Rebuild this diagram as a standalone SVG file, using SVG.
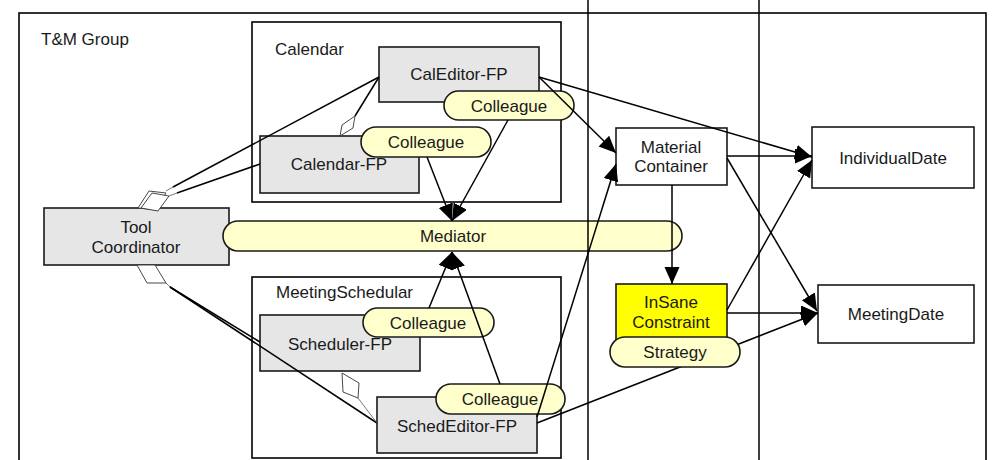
<svg xmlns="http://www.w3.org/2000/svg" width="993" height="460" viewBox="0 0 993 460">
  <style>
    text { font-family: "Liberation Sans", Arial, sans-serif; font-size: 17px; fill: #1a1a1a; }
    .mid { text-anchor: middle; }
    .frame { fill: none; stroke: #000; stroke-width: 1.6; }
    .box { fill: #e6e6e6; stroke: #1a1a1a; stroke-width: 1.6; }
    .plain { fill: #fff; stroke: #1a1a1a; stroke-width: 1.6; }
    .hot { fill: #ffff00; stroke: #1a1a1a; stroke-width: 1.6; }
    .role { fill: #ffffcc; stroke: #1a1a1a; stroke-width: 1.6; }
    .dep { fill: none; stroke: #000; stroke-width: 1.5; marker-end: url(#arrow); }
    .agg { fill: none; stroke: #000; stroke-width: 1.5; }
    .thin { fill: none; stroke: #555; stroke-width: 0.8; }
    .dia { fill: #fff; stroke: #333; stroke-width: 0.9; }
    .sep { stroke: #000; stroke-width: 1.5; }
  </style>
  <defs>
    <marker id="arrow" markerUnits="userSpaceOnUse" markerWidth="19" markerHeight="16" refX="17" refY="7.5" orient="auto">
      <path d="M0,0 L17,7.5 L0,15 Z" fill="#000"/>
    </marker>
  </defs>

  <rect width="993" height="460" fill="#fff"/>

  <!-- outer group frame -->
  <g id="tm-group">
    <rect class="frame" x="19" y="13" width="967" height="460"/>
    <text x="41" y="45">T&amp;M Group</text>
  </g>

  <!-- sub-tool containers -->
  <g id="calendar">
    <rect class="frame" x="252" y="22" width="309" height="180"/>
    <text x="275" y="55">Calendar</text>
  </g>
  <g id="meeting-schedular">
    <rect class="frame" x="252" y="277" width="309" height="181"/>
    <text x="276" y="298">MeetingSchedular</text>
  </g>

  <!-- functional parts -->
  <g id="cal-editor-fp">
    <rect class="box" x="379" y="47" width="160" height="55"/>
    <text class="mid" x="459" y="80">CalEditor-FP</text>
  </g>
  <g id="calendar-fp">
    <rect class="box" x="260" y="136" width="159" height="57"/>
    <text class="mid" x="339" y="170">Calendar-FP</text>
  </g>
  <g id="scheduler-fp">
    <rect class="box" x="260" y="315" width="160" height="56"/>
    <text class="mid" x="340" y="350">Scheduler-FP</text>
  </g>
  <g id="sched-editor-fp">
    <rect class="box" x="377" y="397" width="160" height="56"/>
    <text class="mid" x="457" y="432">SchedEditor-FP</text>
  </g>
  <g id="tool-coordinator">
    <rect class="box" x="44" y="208" width="185" height="57"/>
    <text class="mid" x="136" y="233">Tool</text>
    <text class="mid" x="136" y="253">Coordinator</text>
  </g>

  <!-- mediator role -->
  <g id="mediator">
    <rect class="role" x="223" y="221" width="459" height="30" rx="15"/>
    <text class="mid" x="453" y="242">Mediator</text>
  </g>

  <!-- materials -->
  <g id="material-container">
    <rect class="plain" x="616" y="128" width="111" height="57"/>
    <text class="mid" x="671" y="153">Material</text>
    <text class="mid" x="671" y="172">Container</text>
  </g>
  <g id="insane-constraint">
    <rect class="hot" x="616" y="284" width="111" height="56"/>
    <text class="mid" x="671" y="308">InSane</text>
    <text class="mid" x="671" y="328">Constraint</text>
  </g>
  <g id="individual-date">
    <rect class="plain" x="812" y="127" width="162" height="61"/>
    <text class="mid" x="893" y="164">IndividualDate</text>
  </g>
  <g id="meeting-date">
    <rect class="plain" x="818" y="285" width="156" height="58"/>
    <text class="mid" x="896" y="320">MeetingDate</text>
  </g>

  <!-- colleague roles -->
  <g id="colleague-caleditor">
    <rect class="role" x="444" y="91" width="130" height="29" rx="14.5"/>
    <text class="mid" x="509" y="112">Colleague</text>
  </g>
  <g id="colleague-calendar">
    <rect class="role" x="361" y="127" width="130" height="30" rx="15"/>
    <text class="mid" x="426" y="148">Colleague</text>
  </g>
  <g id="colleague-scheduler">
    <rect class="role" x="363" y="308" width="131" height="29" rx="14.5"/>
    <text class="mid" x="428" y="329">Colleague</text>
  </g>
  <g id="colleague-schededitor">
    <rect class="role" x="436" y="384" width="129" height="30" rx="15"/>
    <text class="mid" x="500" y="405">Colleague</text>
  </g>

  <!-- connectors -->
  <g id="connectors">
    <!-- aggregations -->
    <polygon class="dia" points="138,208 149,191 166,193 156,210"/>
    <polygon class="dia" points="141,208 152,193 169,196 158,211"/>
    <polygon class="dia" points="137,265 155,265 166,283 147,283"/>
    <polygon class="dia" points="340,136 342,125 355,116 353,128"/>
    <polygon class="dia" points="342,373 359,383 358,398 343,392"/>
    <line class="thin" x1="166" y1="191" x2="173" y2="187"/>
    <line class="thin" x1="169" y1="196" x2="177" y2="193"/>
    <line class="thin" x1="166" y1="283" x2="170" y2="287"/>
    <line class="agg" x1="173" y1="187" x2="379" y2="77"/>
    <line class="agg" x1="177" y1="193" x2="260" y2="164"/>
    <line class="agg" x1="170" y1="287" x2="260" y2="342"/>
    <line class="agg" x1="170" y1="287" x2="377" y2="423"/>
    <line class="agg" x1="355" y1="116" x2="379" y2="77"/>
    <line class="thin" x1="358" y1="398" x2="377" y2="423"/>

    <!-- colleague to mediator -->
    <line class="dep" x1="427" y1="157" x2="452" y2="221"/>
    <line class="dep" x1="508" y1="120" x2="452" y2="221"/>
    <line class="dep" x1="429" y1="308" x2="452" y2="252"/>
    <line class="dep" x1="500" y1="384" x2="452" y2="252"/>

    <!-- uses -->
    <line class="dep" x1="539" y1="77" x2="616" y2="153"/>
    <line class="dep" x1="539" y1="77" x2="812" y2="157"/>
    <line class="dep" x1="727" y1="156" x2="812" y2="156"/>
    <line class="dep" x1="727" y1="158" x2="817" y2="311"/>
    <line class="dep" x1="672" y1="185" x2="672" y2="284"/>
    <line class="dep" x1="727" y1="310" x2="812" y2="160"/>
    <line class="dep" x1="727" y1="313" x2="818" y2="313"/>
    <line class="dep" x1="537" y1="423" x2="818" y2="313"/>
    <line class="dep" x1="537" y1="417" x2="616" y2="164"/>
  </g>

  <!-- strategy role sits over the line beneath it -->
  <g id="strategy">
    <rect class="role" x="610" y="337" width="130" height="30" rx="15"/>
    <text class="mid" x="675" y="358">Strategy</text>
  </g>

  <!-- layer separators -->
  <g id="separators">
    <line class="sep" x1="588" y1="0" x2="588" y2="460"/>
    <line class="sep" x1="759" y1="0" x2="759" y2="460"/>
  </g>
</svg>
